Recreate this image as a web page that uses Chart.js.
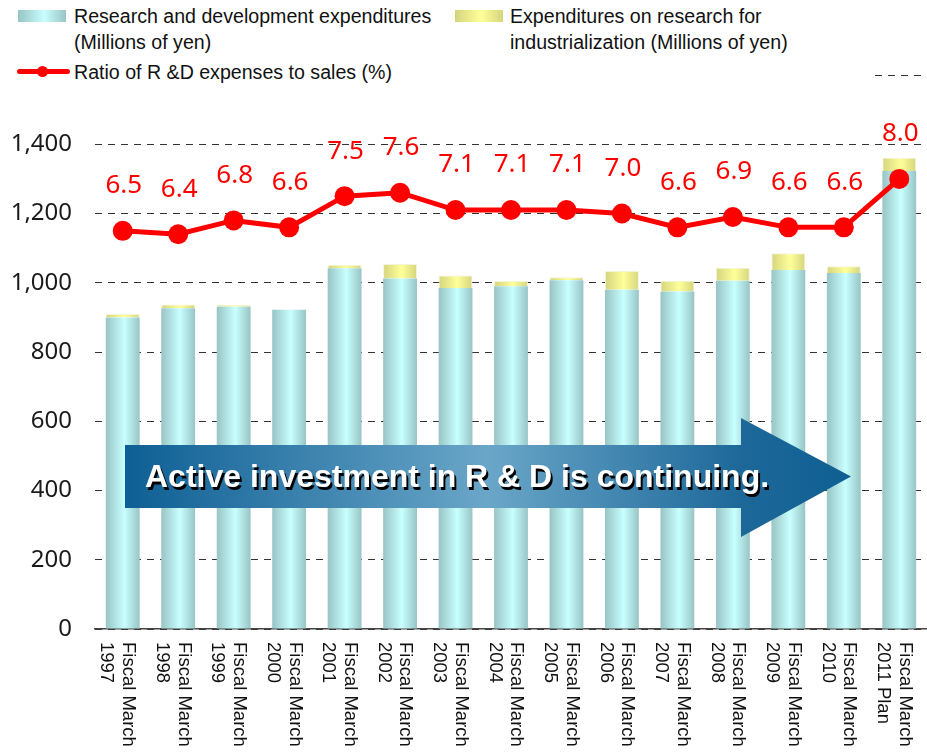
<!DOCTYPE html>
<html>
<head>
<meta charset="utf-8">
<title>R&amp;D expenditures</title>
<script src="https://cdn.jsdelivr.net/npm/chart.js@4.4.1/dist/chart.umd.min.js"></script>
<style>
    html, body { margin: 0; padding: 0; background: #fff; }
    #wrap { position: relative; width: 927px; height: 755px; }
    #legend {
        position: absolute; left: 0; top: 0; width: 872px; height: 90px;
        background: #fff; font-family: "Liberation Sans", Arial, sans-serif;
        font-size: 19.6px; color: #111; line-height: 26px;
    }
    .box { position: absolute; width: 48px; height: 12px; }
    .txt { position: absolute; white-space: nowrap; }
    .ln { position: absolute; width: 53px; height: 5px; background: #ff0000; border-radius: 3px; }
    .dot { position: absolute; width: 11px; height: 11px; border-radius: 50%; background: #ff0000; }
</style>
</head>
<body>
<div id="wrap">
    <canvas id="rdChart"></canvas>
    <div id="legend">
        <div class="box" style="left:18px; top:10px; background:linear-gradient(90deg,#98c4c4,#c8ffff 55%,#98c4c4);"></div>
        <div class="txt" style="left:74px; top:3px;">Research and development expenditures<br>(Millions of yen)</div>
        <div class="box" style="left:455px; top:10px; background:linear-gradient(90deg,#d4d47e,#ffff99 55%,#d4d47e);"></div>
        <div class="txt" style="left:510px; top:3px;">Expenditures on research for<br>industrialization (Millions of yen)</div>
        <div class="ln" style="left:17px; top:69px;"></div>
        <div class="dot" style="left:37px; top:66px;"></div>
        <div class="txt" style="left:74px; top:59px;">Ratio of R &amp;D expenses to sales (%)</div>
    </div>
</div>
<script>
// Data
const categories = [
    ['Fiscal March', '1997'], ['Fiscal March', '1998'], ['Fiscal March', '1999'],
    ['Fiscal March', '2000'], ['Fiscal March', '2001'], ['Fiscal March', '2002'],
    ['Fiscal March', '2003'], ['Fiscal March', '2004'], ['Fiscal March', '2005'],
    ['Fiscal March', '2006'], ['Fiscal March', '2007'], ['Fiscal March', '2008'],
    ['Fiscal March', '2009'], ['Fiscal March', '2010'], ['Fiscal March', '2011 Plan']
];
const rdExpenditures = [900, 926, 931, 922, 1042, 1012, 985, 990, 1007, 980, 975, 1006, 1037, 1028, 1323];
const industrializationExpenditures = [10, 11, 5, 0, 10, 42, 36, 15, 9, 54, 31, 37, 48, 20, 38];
const salesRatio = [6.5, 6.4, 6.8, 6.6, 7.5, 7.6, 7.1, 7.1, 7.1, 7.0, 6.6, 6.9, 6.6, 6.6, 8.0];
const yTicks = [0, 200, 400, 600, 800, 1000, 1200, 1400];

const BAR_HALF = 17;

// Horizontal "cylinder" shading for each bar
function barGradient(ctx, edge, center) {
    const chart = ctx.chart;
    const x = chart.scales.x;
    if (!x || ctx.dataIndex === undefined) return center;
    const cx = x.getPixelForValue(ctx.dataIndex);
    if (!Number.isFinite(cx)) return center;
    const g = chart.ctx.createLinearGradient(cx - BAR_HALF, 0, cx + BAR_HALF, 0);
    g.addColorStop(0, edge);
    g.addColorStop(0.55, center);
    g.addColorStop(1, edge);
    return g;
}

// Value labels above the ratio points
const pointLabels = {
    id: 'pointLabels',
    afterDatasetsDraw(chart) {
        const meta = chart.getDatasetMeta(0);
        const c = chart.ctx;
        c.save();
        c.font = '26px "Noto Sans", sans-serif';
        c.fillStyle = '#ff0000';
        c.textAlign = 'center';
        c.textBaseline = 'middle';
        meta.data.forEach((pt, i) => {
            c.fillText(salesRatio[i].toFixed(1), pt.x + 1, pt.y - 45);
        });
        c.restore();
    }
};

// Rotated two-line category labels (read top to bottom)
const categoryLabels = {
    id: 'categoryLabels',
    afterDraw(chart) {
        const x = chart.scales.x;
        const c = chart.ctx;
        c.save();
        c.font = '18.5px "Liberation Sans", Arial, sans-serif';
        c.fillStyle = '#111';
        c.textAlign = 'left';
        c.textBaseline = 'middle';
        categories.forEach((lines, i) => {
            const px = x.getPixelForValue(i);
            c.save();
            c.translate(px + 5.5, chart.chartArea.bottom + 13);
            c.rotate(Math.PI / 2);
            lines.forEach((line, j) => c.fillText(line, 0, j * 21.7));
            c.restore();
        });
        c.restore();
    }
};

// Big callout arrow over the bars
const callout = {
    id: 'callout',
    afterDraw(chart) {
        const c = chart.ctx;
        const left = 125, bodyTop = 445, bodyBot = 508, headX = 741, tipX = 851;
        const headTop = 418, headBot = 537, midY = (bodyTop + bodyBot) / 2;
        c.save();
        const g = c.createLinearGradient(left, 0, tipX, 0);
        g.addColorStop(0, '#0e5f94');
        g.addColorStop(0.5, '#6aa6c8');
        g.addColorStop(0.85, '#1d6899');
        g.addColorStop(1, '#0f5f92');
        c.fillStyle = g;
        c.beginPath();
        c.moveTo(left, bodyTop);
        c.lineTo(headX, bodyTop);
        c.lineTo(headX, headTop);
        c.lineTo(tipX, midY);
        c.lineTo(headX, headBot);
        c.lineTo(headX, bodyBot);
        c.lineTo(left, bodyBot);
        c.closePath();
        c.fill();

        c.font = 'bold 32px "Liberation Sans", Arial, sans-serif';
        c.textAlign = 'left';
        c.textBaseline = 'alphabetic';
        c.fillStyle = '#000';
        c.fillText('Active investment in R & D is continuing.', 147, 490);
        c.fillStyle = '#fff';
        c.fillText('Active investment in R & D is continuing.', 145, 487);
        c.restore();
    }
};

Chart.defaults.animation = false;

new Chart(document.getElementById('rdChart'), {
    type: 'bar',
    data: {
        labels: categories,
        datasets: [
            {
                type: 'line',
                label: 'Ratio of R &D expenses to sales (%)',
                data: salesRatio,
                yAxisID: 'y1',
                borderColor: '#ff0000',
                backgroundColor: '#ff0000',
                borderWidth: 5,
                pointRadius: 10,
                pointHoverRadius: 10,
                pointBackgroundColor: '#ff0000',
                pointBorderWidth: 0,
                tension: 0,
                order: 0
            },
            {
                label: 'Research and development expenditures (Millions of yen)',
                data: rdExpenditures,
                backgroundColor: ctx => barGradient(ctx, '#98c4c4', '#c8ffff'),
                borderWidth: 0,
                barPercentage: 0.61,
                categoryPercentage: 1,
                stack: 'rd',
                order: 1
            },
            {
                label: 'Expenditures on research for industrialization (Millions of yen)',
                data: industrializationExpenditures,
                backgroundColor: ctx => barGradient(ctx, '#d4d47e', '#ffff99'),
                borderColor: '#f4f4d6',
                borderWidth: 1,
                barPercentage: 0.61,
                categoryPercentage: 1,
                stack: 'rd',
                order: 1
            }
        ]
    },
    options: {
        responsive: true,
        maintainAspectRatio: false,
        layout: { autoPadding: false, padding: { top: 75, right: 0, bottom: 126, left: 0 } },
        plugins: {
            legend: { display: false },
            tooltip: { enabled: false }
        },
        scales: {
            x: {
                stacked: true,
                grid: { display: false, drawTicks: false },
                border: { display: true, color: '#444', width: 1.5 },
                ticks: { display: false }
            },
            y: {
                stacked: true,
                min: 0,
                max: 1600,
                afterFit: scale => { scale.width = 95; },
                afterBuildTicks: scale => {
                    scale.ticks = yTicks.concat([1600]).map(v => ({ value: v }));
                },
                ticks: {
                    padding: 23,
                    color: '#1a1a1a',
                    font: { family: '"Noto Sans", sans-serif', size: 24 },
                    callback: v => (v === 1600 ? '' : v.toLocaleString('en-US'))
                },
                grid: { color: '#333', lineWidth: 1, drawTicks: false },
                border: { display: false, dash: [7, 6] }
            },
            y1: {
                display: false,
                min: -5,
                max: 11
            }
        }
    },
    plugins: [pointLabels, categoryLabels, callout]
});
</script>
</body>
</html>
